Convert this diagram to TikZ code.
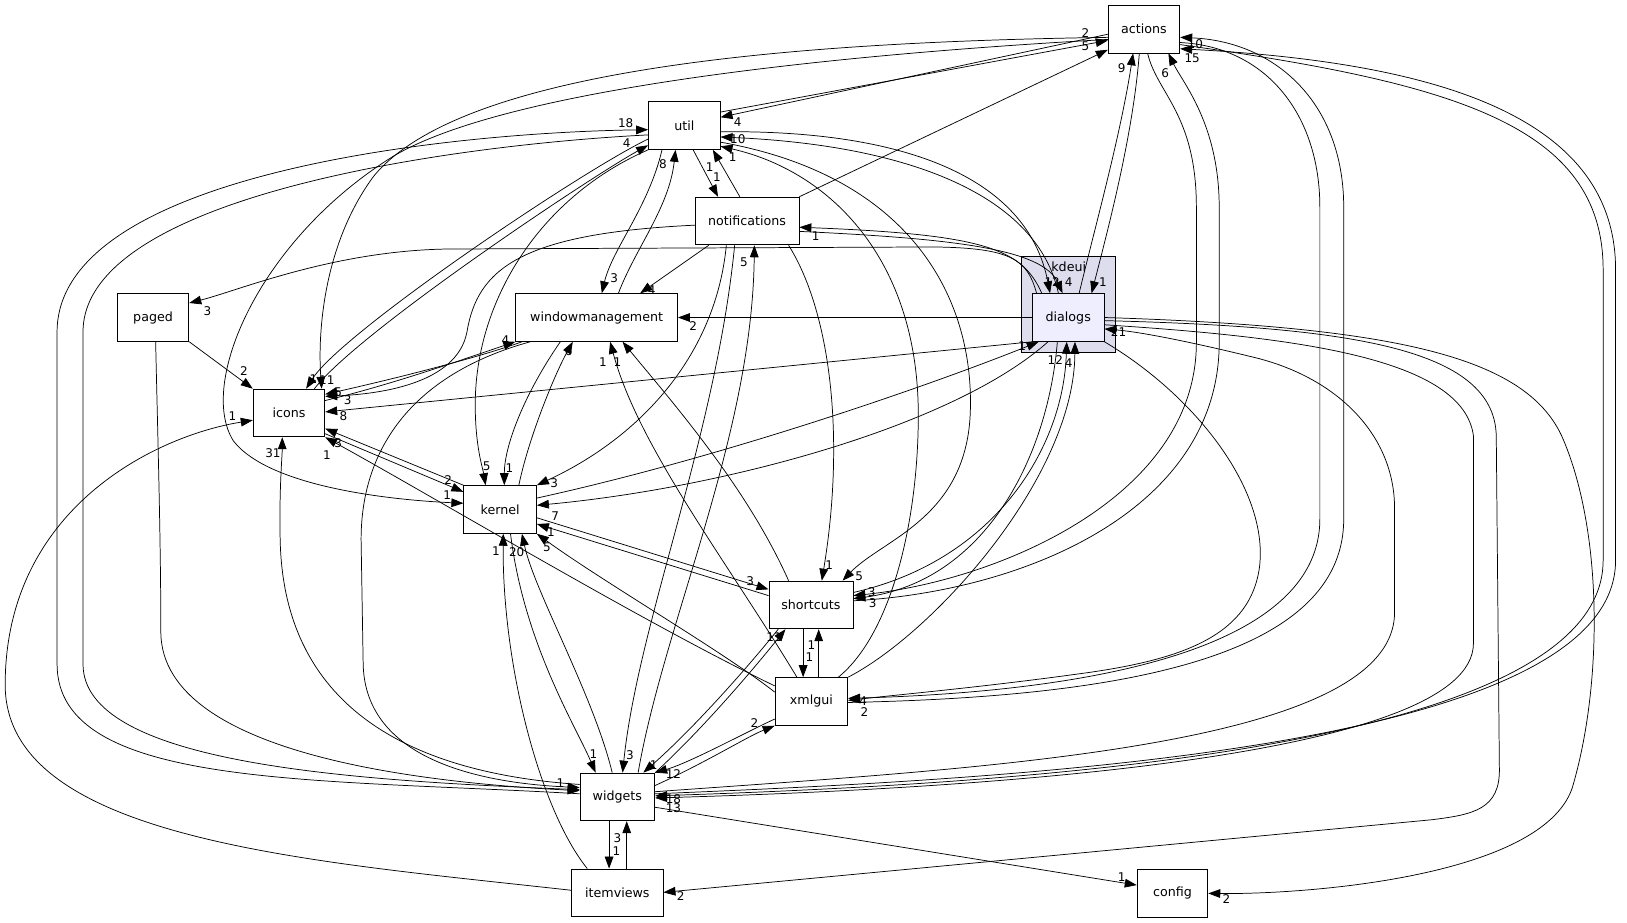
\documentclass[tikz,border=0pt]{standalone}
\usepackage{fontspec}
\setmainfont{DejaVu Sans}
\usetikzlibrary{arrows.meta}
\definecolor{clfill}{HTML}{DDDDEE}
\definecolor{dlgfill}{HTML}{EEEEFF}
\tikzset{
  box/.style={draw, line width=0.6pt, fill=white, minimum height=35.8pt, inner sep=0pt, font=\fontsize{9.5}{11}\selectfont},
  cluster/.style={draw, line width=0.6pt, fill=clfill, inner sep=0pt},
  dep/.style={draw, line width=0.55pt, -{Triangle[length=9pt,width=6.5pt]}},
  lbl/.style={font=\fontsize{9}{10}\selectfont, inner sep=0pt},
}
\begin{document}
\begin{tikzpicture}[x=0.7782pt, y=-0.7782pt]
\fill[white] (0,0) rectangle (1568,889.5);
\useasboundingbox (0,0) rectangle (1568,889.5);
% cluster
\node[cluster, minimum width=70.8pt, minimum height=72.4pt] (kdeui) at (1029.5,293.5) {};
\node[font=\fontsize{9.5}{11}\selectfont, inner sep=0pt] (kdeuilbl) at (1030,257) {kdeui};
% nodes
\node[box, minimum width=53.7pt] (actions) at (1102.5,28) {actions};
\node[box, minimum width=53.7pt] (util) at (659.5,121) {util};
\node[box, minimum width=77.8pt] (notif) at (720,213) {notifications};
\node[box, fill=dlgfill, minimum width=53.7pt] (dialogs) at (1029.5,306) {dialogs};
\node[box, minimum width=53.7pt] (paged) at (147.5,306) {paged};
\node[box, minimum width=53.7pt] (icons) at (278.5,398) {icons};
\node[box, minimum width=121.4pt] (wm) at (575,306) {windowmanagement};
\node[box, minimum width=54.5pt] (kernel) at (482,491) {kernel};
\node[box, minimum width=63pt] (shortcuts) at (781.5,583) {shortcuts};
\node[box, minimum width=54.5pt] (xmlgui) at (782,676) {xmlgui};
\node[box, minimum width=56pt] (widgets) at (595,768) {widgets};
\node[box, minimum width=68.5pt] (itemviews) at (595,860.5) {itemviews};
\node[box, minimum width=53pt] (config) at (1130,861) {config};

% actions
\draw[dep] (actions.west |- 0,33) -- (util.east |- 0,113) node[lbl] at (711,118) {4};
\draw[dep] (util.east |- 0,108) -- (actions.west |- 0,39) node[lbl] at (1046,32) {2};
\draw[dep] (notif.north east) -- (actions.west |- 0,48) node[lbl] at (1046,45) {5};
\draw[dep] (actions.west |- 0,36) .. controls (800,40) and (450,60) .. (360,170) .. controls (312,235) and (306,320) .. (icons.north -| 310,0) node[lbl] at (302,365) {1};
\draw[dep] (actions.west |- 0,38) .. controls (850,50) and (500,80) .. (380,150) .. controls (250,230) and (190,370) .. (225,425) .. controls (260,470) and (380,482) .. (kernel.west |- 0,485) node[lbl] at (431,477) {1};
\draw[dep] (actions.south -| 1098,0) .. controls (1092,130) and (1068,220) .. (dialogs.north -| 1052,0) node[lbl] at (1063,272) {1};
\draw[dep] (dialogs.north -| 1040,0) .. controls (1055,220) and (1080,130) .. (actions.south -| 1092,0) node[lbl] at (1081,66) {9};
\draw[dep] (actions.south -| 1106,0) .. controls (1115,90) and (1153,110) .. (1153,200) -- (1153,330) .. controls (1153,480) and (960,560) .. (shortcuts.east |- 0,574) node[lbl] at (840,571) {3};
\draw[dep] (shortcuts.east |- 0,579) .. controls (990,570) and (1175,490) .. (1175,330) -- (1175,200) .. controls (1175,120) and (1140,80) .. (actions.south -| 1126,0) node[lbl] at (1123,70) {6};
\draw[dep] (actions.east |- 0,41) .. controls (1220,45) and (1272,110) .. (1272,200) -- (1272,500) .. controls (1272,640) and (1000,668) .. (xmlgui.east |- 0,673) node[lbl] at (832,676) {4};
\draw[dep] (xmlgui.east |- 0,677) .. controls (1060,672) and (1295,640) .. (1295,500) -- (1295,200) .. controls (1295,100) and (1230,40) .. (actions.east |- 0,36) node[lbl] at (1152,43) {10};
\draw[dep] (actions.east |- 0,43) .. controls (1400,80) and (1545,120) .. (1545,260) -- (1545,540) .. controls (1545,720) and (1000,755) .. (widgets.east |- 0,767) node[lbl] at (649,779) {13};
\draw[dep] (widgets.east |- 0,765) .. controls (1000,750) and (1557,720) .. (1557,540) -- (1557,260) .. controls (1557,110) and (1380,60) .. (actions.east |- 0,47) node[lbl] at (1149,56) {15};

% util
\draw[dep] (widgets.west |- 0,765) .. controls (300,750) and (55,760) .. (55,640) -- (55,320) .. controls (55,170) and (420,128) .. (util.west |- 0,125) node[lbl] at (603,119) {18};
\draw[dep] (util.west |- 0,130) .. controls (430,140) and (80,190) .. (80,320) -- (80,640) .. controls (80,735) and (330,752) .. (widgets.west |- 0,761) node[lbl] at (540,755) {1};
\draw[dep] (util.west |- 0,134) .. controls (560,165) and (330,320) .. (icons.north -| 295,0) node[lbl] at (315,366) {11};
\draw[dep] (icons.north -| 303,0) .. controls (345,320) and (570,170) .. (util.west |- 0,140) node[lbl] at (604,138) {4};
\draw[dep] (util.south -| 638,0) .. controls (625,200) and (590,240) .. (wm.north -| 580,0) node[lbl] at (592,268) {3};
\draw[dep] (wm.north -| 596,0) .. controls (612,240) and (645,200) .. (util.south -| 651,0) node[lbl] at (639,158) {8};
\draw[dep] (notif.north -| 713,0) -- (util.south -| 687,0) node[lbl] at (684,161) {1};
\draw[dep] (util.south -| 668,0) -- (notif.north -| 692,0) node[lbl] at (691,171) {1};
\draw[dep] (util.east |- 0,127) .. controls (870,125) and (990,170) .. (dialogs.north -| 1012,0) node[lbl] at (1014,272) {12};
\draw[dep] (dialogs.north -| 1020,0) .. controls (1000,190) and (880,140) .. (util.east |- 0,132) node[lbl] at (711,134) {10};
\draw[dep] (xmlgui.north -| 808,0) .. controls (860,610) and (885,500) .. (885,400) .. controls (885,250) and (800,165) .. (util.east |- 0,141) node[lbl] at (706,151) {1};
\draw[dep] (util.east |- 0,137) .. controls (880,170) and (940,290) .. (935,400) .. controls (930,500) and (850,520) .. (shortcuts.north -| 812,0) node[lbl] at (828,555) {5};
\draw[dep] (util.south west) .. controls (520,190) and (458,290) .. (458,390) .. controls (458,430) and (465,450) .. (kernel.north -| 468,0) node[lbl] at (469,449) {5};

% notifications
\draw[dep] (notif.south -| 683,0) -- (wm.north -| 617,0) node[lbl] at (628,280) {4};
\draw[dep] (notif.south -| 700,0) .. controls (690,340) and (620,420) .. (kernel.north east) node[lbl] at (534,466) {3};
\draw[dep] (notif.south -| 760,0) .. controls (800,300) and (815,420) .. (shortcuts.north -| 792,0) node[lbl] at (799,545) {1};
\draw[dep] (notif.south -| 708,0) .. controls (690,420) and (615,600) .. (widgets.north -| 600,0) node[lbl] at (607,728) {3};
\draw[dep] (widgets.north -| 615,0) .. controls (640,600) and (725,420) .. (notif.south -| 727,0) node[lbl] at (717,253) {5};
\draw[dep] (dialogs.north -| 1004,0) .. controls (985,240) and (950,226) .. (notif.east |- 0,219) node[lbl] at (786,228) {1};
\draw[dep] (notif.east |- 0,223) .. controls (920,230) and (1005,240) .. (dialogs.north -| 1024,0) node[lbl] at (1030,272) {4};
\draw[dep] (notif.west |- 0,217) .. controls (500,225) and (460,260) .. (450,320) .. controls (440,372) and (360,380) .. (icons.east |- 0,382) node[lbl] at (326,378) {5};

% dialogs
\draw[dep] (dialogs.north -| 999,0) .. controls (990,250) and (975,239) .. (900,238) -- (430,240) .. controls (320,242) and (230,280) .. (paged.east |- 0,292) node[lbl] at (200,300) {3};
\draw[dep] (dialogs.west) -- (wm.east) node[lbl] at (668,314) {2};
\draw[dep] (dialogs.south west) -- (icons.east |- 0,397) node[lbl] at (331,401) {8};
\draw[dep] (kernel.east |- 0,480) .. controls (700,440) and (900,370) .. (dialogs.south -| 1001,0) node[lbl] at (985,334) {1};
\draw[dep] (dialogs.south -| 1010,0) .. controls (920,410) and (700,470) .. (kernel.east |- 0,487) node[lbl] at (535,497) {7};
\draw[dep] (shortcuts.east |- 0,571) .. controls (960,540) and (1025,430) .. (dialogs.south -| 1028,0) node[lbl] at (1017,347) {12};
\draw[dep] (dialogs.south -| 1019,0) .. controls (1010,440) and (950,560) .. (shortcuts.east |- 0,577) node[lbl] at (841,581) {3};
\draw[dep] (xmlgui.north east) .. controls (900,610) and (1035,460) .. (dialogs.south -| 1036,0) node[lbl] at (1030,350) {4};
\draw[dep] (dialogs.south east) .. controls (1150,380) and (1222,470) .. (1214,545) .. controls (1206,612) and (1140,635) .. (1050,648) .. controls (950,662) and (870,669) .. (xmlgui.east |- 0,675) node[lbl] at (833,686) {2};
\draw[dep] (widgets.east |- 0,763) .. controls (950,740) and (1344,720) .. (1344,590) -- (1344,490) .. controls (1344,420) and (1290,365) .. (1211,345) .. controls (1150,330) and (1100,320) .. (dialogs.east |- 0,317) node[lbl] at (1078,320) {21};
\draw[dep] (dialogs.east |- 0,313) .. controls (1250,325) and (1410,345) .. (1420,420) -- (1420,620) .. controls (1420,730) and (950,760) .. (widgets.east |- 0,769) node[lbl] at (649,770) {18};
\draw[dep] (dialogs.east |- 0,309) .. controls (1300,315) and (1440,335) .. (1442,420) -- (1445,740) .. controls (1446,780) and (1420,785) .. (1380,790) -- (itemviews.east |- 0,860) node[lbl] at (656,864) {2};
\draw[dep] (dialogs.east |- 0,306) .. controls (1350,315) and (1470,345) .. (1505,420) .. controls (1545,510) and (1545,660) .. (1515,760) .. controls (1485,845) and (1260,862) .. (config.east) node[lbl] at (1182,866) {2};

% paged, icons, wm
\draw[dep] (paged.south east) -- (icons.north west) node[lbl] at (235,358) {2};
\draw[dep] (paged.south -| 150,0) .. controls (152,420) and (155,520) .. (155,610) .. controls (157,730) and (420,755) .. (widgets.west |- 0,762);
\draw[dep] (wm.south -| 511,0) .. controls (400,360) and (348,430) .. (348,520) -- (350,640) .. controls (352,735) and (470,755) .. (widgets.west |- 0,759);
\draw[dep] (icons.east |- 0,386) .. controls (380,370) and (450,345) .. (wm.south west) node[lbl] at (487,328) {4};
\draw[dep] (wm.south -| 503,0) .. controls (460,345) and (380,365) .. (icons.east |- 0,380) node[lbl] at (335,386) {3};
\draw[dep] (itemviews.west |- 0,858) .. controls (300,830) and (5,810) .. (5,660) .. controls (5,490) and (150,420) .. (icons.west |- 0,405) node[lbl] at (224,401) {1};
\draw[dep] (widgets.west |- 0,756) .. controls (320,740) and (272,620) .. (270,520) .. controls (269,470) and (272,440) .. (icons.south -| 272,0) node[lbl] at (263,437) {31};
\draw[dep] (xmlgui.west |- 0,661) .. controls (620,600) and (420,480) .. (icons.south east) node[lbl] at (315,439) {1};
\draw[dep] (kernel.north west) -- (icons.east |- 0,413) node[lbl] at (326,427) {3};
\draw[dep] (icons.east |- 0,418) -- (kernel.west |- 0,474) node[lbl] at (432,463) {2};

% kernel
\draw[dep] (wm.south -| 540,0) .. controls (505,380) and (486,430) .. (kernel.north -| 486,0) node[lbl] at (491,451) {1};
\draw[dep] (kernel.north -| 500,0) .. controls (510,420) and (535,360) .. (wm.south -| 552,0) node[lbl] at (548,338) {6};
\draw[dep] (kernel.east |- 0,499) -- (shortcuts.west |- 0,568) node[lbl] at (723,560) {3};
\draw[dep] (shortcuts.west |- 0,574) -- (kernel.east |- 0,505) node[lbl] at (531,513) {1};
\draw[dep] (xmlgui.west |- 0,667) .. controls (700,630) and (580,560) .. (kernel.south east) node[lbl] at (527,527) {5};
\draw[dep] (kernel.south -| 492,0) .. controls (505,620) and (555,700) .. (widgets.north -| 574,0) node[lbl] at (572,727) {1};
\draw[dep] (widgets.north -| 590,0) .. controls (572,670) and (515,570) .. (kernel.south -| 503,0) node[lbl] at (498,532) {20};
\draw[dep] (itemviews.north -| 566,0) .. controls (520,780) and (484,640) .. (kernel.south -| 485,0) node[lbl] at (478,531) {1};

% shortcuts, xmlgui, widgets
\draw[dep] (shortcuts.north -| 760,0) .. controls (720,470) and (650,390) .. (wm.south -| 600,0) node[lbl] at (595,349) {1};
\draw[dep] (xmlgui.north -| 768,0) .. controls (700,540) and (615,430) .. (wm.south -| 588,0) node[lbl] at (581,349) {1};
\draw[dep] (shortcuts.south -| 774,0) -- (xmlgui.north -| 774,0) node[lbl] at (780,633) {1};
\draw[dep] (xmlgui.north -| 789,0) -- (shortcuts.south -| 789,0) node[lbl] at (782,622) {1};
\draw[dep] (widgets.north east) .. controls (680,700) and (730,640) .. (shortcuts.south -| 757,0) node[lbl] at (746,614) {11};
\draw[dep] (shortcuts.south -| 750,0) .. controls (715,650) and (665,705) .. (widgets.north -| 620,0) node[lbl] at (630,737) {1};
\draw[dep] (xmlgui.west |- 0,693) .. controls (720,705) and (665,735) .. (widgets.north east) node[lbl] at (649,746) {12};
\draw[dep] (widgets.east |- 0,757) .. controls (680,735) and (720,710) .. (xmlgui.south west) node[lbl] at (727,697) {2};
\draw[dep] (widgets.east |- 0,778) -- (config.west |- 0,853) node[lbl] at (1081,845) {1};
\draw[dep] (widgets.south -| 587,0) -- (itemviews.north -| 587,0) node[lbl] at (594,820) {1};
\draw[dep] (itemviews.north -| 604,0) -- (widgets.south -| 604,0) node[lbl] at (595,808) {3};
\end{tikzpicture}
\end{document}
